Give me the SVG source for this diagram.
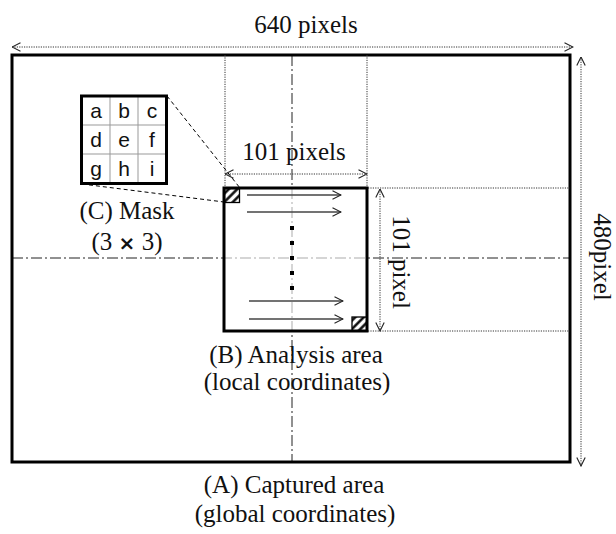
<svg xmlns="http://www.w3.org/2000/svg" width="616" height="534" viewBox="0 0 616 534">
  <defs>
    <style>
      .frame { fill: none; stroke: #000; stroke-width: 3; }
      .dim { fill: none; stroke: #333; stroke-width: 1; stroke-dasharray: 1.2 1.2; }
      .axis { fill: none; stroke: #222; stroke-width: 1; stroke-dasharray: 11 3 2 3; }
      .scan { fill: none; stroke: #444; stroke-width: 1.3; }
      .link { fill: none; stroke: #000; stroke-width: 1; stroke-dasharray: 4 3; }
      .lbl { font-family: "Liberation Serif", "Times New Roman", serif; font-size: 25px; fill: #111; text-anchor: middle; }
      .cell { font-family: "Liberation Sans", Arial, sans-serif; font-size: 21px; fill: #111; text-anchor: middle; }
      .times { font-family: "DejaVu Sans", sans-serif; font-weight: bold; font-size: 20px; }
      .grid { stroke: #999; stroke-width: 1; }
    </style>
    <marker id="chev" viewBox="0 0 10 10" refX="9.5" refY="5" markerWidth="10" markerHeight="10" markerUnits="userSpaceOnUse" orient="auto-start-reverse">
      <path d="M1,0.8 L9.5,5 L1,9.2" fill="none" stroke="#222" stroke-width="1.1"/>
    </marker>
    <pattern id="hatch" width="6" height="6" patternUnits="userSpaceOnUse" patternTransform="rotate(45)">
      <rect width="6" height="6" fill="#fff"/>
      <line x1="1.5" y1="0" x2="1.5" y2="6" stroke="#000" stroke-width="2.4"/>
    </pattern>
  </defs>

  <!-- (A) captured area -->
  <g id="captured-area">
    <rect x="12" y="55" width="558" height="407" fill="#fff" stroke="none"/>
    <line class="axis" x1="292" y1="55" x2="292" y2="462"/>
    <line class="axis" x1="12" y1="258" x2="570" y2="258"/>
    <rect class="frame" x="12" y="55" width="558" height="407"/>
    <text class="lbl" x="294" y="493">(A) Captured area</text>
    <text class="lbl" x="295" y="522">(global coordinates)</text>
  </g>

  <!-- dimension guides and arrows -->
  <g id="connectors">
    <line class="dim" x1="225" y1="55" x2="225" y2="187"/>
    <line class="dim" x1="367" y1="55" x2="367" y2="187"/>
    <line class="dim" x1="368" y1="188" x2="570" y2="188"/>
    <line class="dim" x1="368" y1="331" x2="570" y2="331"/>
    <line class="dim" x1="12" y1="47" x2="573" y2="47" marker-start="url(#chev)" marker-end="url(#chev)"/>
    <line class="dim" x1="581" y1="57" x2="581" y2="466" marker-start="url(#chev)" marker-end="url(#chev)"/>
    <line class="dim" x1="225" y1="174" x2="367" y2="174" marker-start="url(#chev)" marker-end="url(#chev)"/>
    <line class="dim" x1="380" y1="189" x2="380" y2="331" marker-start="url(#chev)" marker-end="url(#chev)"/>
    <line class="link" x1="167" y1="96" x2="240" y2="188"/>
    <line class="link" x1="82" y1="184" x2="224" y2="202"/>
  </g>

  <!-- dimension labels -->
  <g id="dimension-labels">
    <text class="lbl" x="306" y="33">640 pixels</text>
    <text class="lbl" x="294" y="160">101 pixels</text>
    <text class="lbl" transform="translate(393,262) rotate(90)">101 pixel</text>
    <text class="lbl" transform="translate(594,257) rotate(90)">480pixel</text>
  </g>

  <!-- (B) analysis area -->
  <g id="analysis-area">
    <rect x="224" y="188" width="143" height="143" fill="#fff" fill-opacity="0.62" stroke="none"/>
    <line class="scan" x1="247" y1="195" x2="341" y2="195" marker-end="url(#chev)"/>
    <line class="scan" x1="247" y1="212" x2="341" y2="212" marker-end="url(#chev)"/>
    <line class="scan" x1="249" y1="301" x2="343" y2="301" marker-end="url(#chev)"/>
    <line class="scan" x1="249" y1="319" x2="343" y2="319" marker-end="url(#chev)"/>
    <g fill="#000">
      <rect x="290" y="226" width="4" height="4"/>
      <rect x="290" y="241" width="4" height="4"/>
      <rect x="290" y="256" width="4" height="4"/>
      <rect x="290" y="271" width="4" height="4"/>
      <rect x="290" y="286" width="4" height="4"/>
    </g>
    <rect x="224.5" y="188.5" width="15" height="14" fill="url(#hatch)" stroke="#000" stroke-width="1.3"/>
    <rect x="352" y="317" width="15" height="14" fill="url(#hatch)" stroke="#000" stroke-width="1.3"/>
    <rect class="frame" x="224" y="188" width="143" height="143"/>
    <text class="lbl" x="296" y="363">(B) Analysis area</text>
    <text class="lbl" x="297" y="390">(local coordinates)</text>
  </g>

  <!-- (C) 3x3 mask -->
  <g id="mask">
    <rect x="81.5" y="96" width="85" height="87.5" fill="#fff" stroke="none"/>
    <line class="grid" x1="110" y1="96" x2="110" y2="183.5"/>
    <line class="grid" x1="138" y1="96" x2="138" y2="183.5"/>
    <line class="grid" x1="81.5" y1="125" x2="166.5" y2="125"/>
    <line class="grid" x1="81.5" y1="154" x2="166.5" y2="154"/>
    <rect class="frame" x="81.5" y="96" width="85" height="87.5"/>
    <text class="cell" x="96" y="118">a</text>
    <text class="cell" x="124" y="118">b</text>
    <text class="cell" x="152" y="118">c</text>
    <text class="cell" x="96" y="147">d</text>
    <text class="cell" x="124" y="147">e</text>
    <text class="cell" x="152" y="147">f</text>
    <text class="cell" x="96" y="176">g</text>
    <text class="cell" x="124" y="176">h</text>
    <text class="cell" x="152" y="176">i</text>
    <text class="lbl" x="127" y="219">(C) Mask</text>
    <text class="lbl" x="127" y="250">(3 <tspan class="times">×</tspan> 3)</text>
  </g>
</svg>
